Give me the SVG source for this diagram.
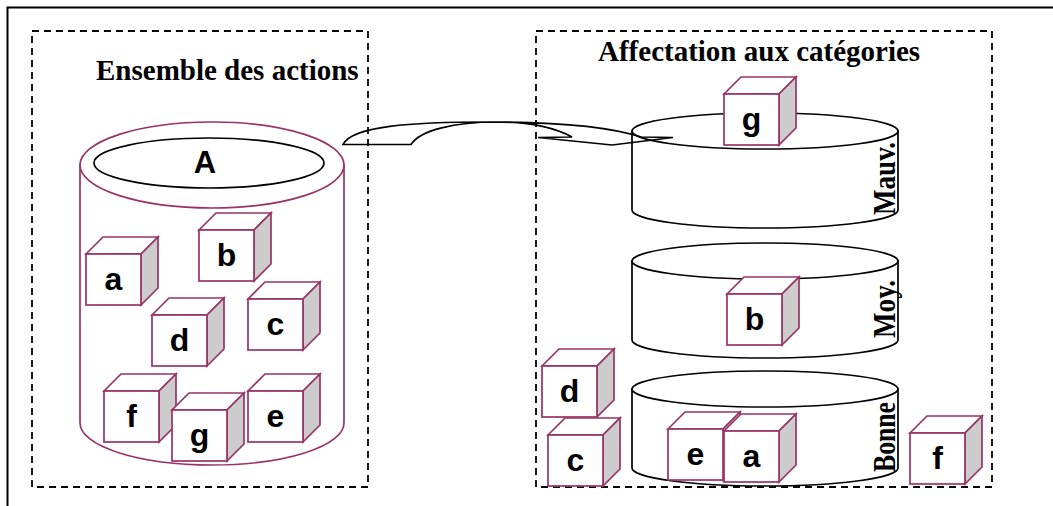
<svg xmlns="http://www.w3.org/2000/svg" xmlns:xlink="http://www.w3.org/1999/xlink" width="1053" height="506" viewBox="0 0 1053 506">
  <style>
    .frame { fill: none; stroke: #000; stroke-width: 2; }
    .zone { fill: none; stroke: #000; stroke-width: 1.8; stroke-dasharray: 7 5; }
    .title { font-family: "Liberation Serif", "Times New Roman", serif; font-weight: bold; font-size: 29px; fill: #000; }
    .cat { font-family: "Liberation Serif", "Times New Roman", serif; font-weight: bold; font-size: 32px; fill: #000; }
    .lbl { font-family: "Liberation Sans", Arial, sans-serif; font-weight: bold; font-size: 32px; fill: #000; text-anchor: middle; }
    .cf { fill: #fff; stroke: #993366; stroke-width: 1.7; stroke-linejoin: miter; }
    .cs { fill: #cccccc; stroke: #993366; stroke-width: 1.7; stroke-linejoin: miter; }
    .pcyl { fill: #fff; stroke: #993366; stroke-width: 1.7; }
    .bcyl { fill: #fff; stroke: #000; stroke-width: 1.7; }
    .ring { fill: none; stroke: #000; stroke-width: 1.7; }
    .arrow { fill: none; stroke: #000; stroke-width: 1.7; stroke-linejoin: miter; }
  </style>
  <defs>
    <!-- a small box: top face, shaded side face, front face -->
    <g id="cube">
      <polygon class="cf" points="0,0 17,-17 72,-17 55,0"/>
      <polygon class="cs" points="55,0 72,-17 72,34 55,51"/>
      <rect class="cf" x="0" y="0" width="55" height="51"/>
    </g>
    <!-- a flat drum: side wall with bottom rim, then the top ellipse -->
    <g id="drum">
      <path class="bcyl" d="M-133,0 V79 A133,18 0 0 0 133,79 V0 Z"/>
      <ellipse class="bcyl" cx="0" cy="0" rx="133" ry="18"/>
    </g>
  </defs>

  <rect width="1053" height="506" fill="#fff"/>

  <!-- outer frame (top and left edges) -->
  <path class="frame" d="M7.5,506 V7.5 H1053"/>

  <!-- left zone: the whole set of actions -->
  <g id="zone-actions">
    <rect class="zone" x="32" y="31" width="336" height="456"/>
    <text class="title" x="96" y="80">Ensemble des actions</text>
  </g>

  <!-- right zone: assignment to categories -->
  <g id="zone-categories">
    <rect class="zone" x="536" y="31" width="456" height="456"/>
    <text class="title" x="598" y="61">Affectation aux catégories</text>
  </g>

  <!-- set A drawn as a tall container -->
  <g id="set-A">
    <path class="pcyl" d="M80,165 V423 A132,42 0 0 0 344,423 V165 Z"/>
    <ellipse class="pcyl" cx="212" cy="165" rx="132" ry="43"/>
    <ellipse class="ring" cx="209" cy="163" rx="115" ry="25"/>
    <text class="lbl" x="205" y="173" style="font-size:31px">A</text>
  </g>

  <!-- actions inside A -->
  <g id="A-a"><use xlink:href="#cube" x="86" y="254"/><text class="lbl" x="113.5" y="290">a</text></g>
  <g id="A-b"><use xlink:href="#cube" x="199" y="230"/><text class="lbl" x="226.5" y="266">b</text></g>
  <g id="A-d"><use xlink:href="#cube" x="152" y="315"/><text class="lbl" x="179.5" y="351">d</text></g>
  <g id="A-c"><use xlink:href="#cube" x="248" y="299"/><text class="lbl" x="275.5" y="335">c</text></g>
  <g id="A-f"><use xlink:href="#cube" x="104" y="391"/><text class="lbl" x="131.5" y="427">f</text></g>
  <g id="A-e"><use xlink:href="#cube" x="248" y="391"/><text class="lbl" x="275.5" y="427">e</text></g>
  <g id="A-g"><use xlink:href="#cube" x="172" y="410"/><text class="lbl" x="199.5" y="446">g</text></g>

  <!-- category drums -->
  <g id="cat-mauv">
    <use xlink:href="#drum" x="765" y="131"/>
    <text class="cat" transform="translate(895,215) rotate(-90)" textLength="73" lengthAdjust="spacingAndGlyphs">Mauv.</text>
  </g>
  <g id="cat-moy">
    <use xlink:href="#drum" x="765" y="261"/>
    <text class="cat" transform="translate(895,338) rotate(-90)" textLength="58" lengthAdjust="spacingAndGlyphs">Moy.</text>
  </g>
  <g id="cat-bonne">
    <use xlink:href="#drum" x="765" y="389"/>
    <text class="cat" transform="translate(895,472) rotate(-90)" textLength="70" lengthAdjust="spacingAndGlyphs">Bonne</text>
  </g>

  <!-- connector: flat curved block arrow from A to the categories -->
  <g id="connectors">
    <path class="arrow" d="M343,144.5 C352,126 410,122 490,122 C560,122 610,127 641,137 L673,137.5 L612,145 L538,137.5 L572,137 C555,128 530,122 497,122 C455,122 420,130 411,144.5 Z"/>
  </g>

  <!-- actions after assignment -->
  <g id="C-g"><use xlink:href="#cube" x="724" y="94"/><text class="lbl" x="751.5" y="130">g</text></g>
  <g id="C-b"><use xlink:href="#cube" x="727" y="294"/><text class="lbl" x="754.5" y="330">b</text></g>
  <g id="C-d"><use xlink:href="#cube" x="542" y="366"/><text class="lbl" x="569.5" y="402">d</text></g>
  <g id="C-c"><use xlink:href="#cube" x="548" y="435"/><text class="lbl" x="575.5" y="471">c</text></g>
  <g id="C-e"><use xlink:href="#cube" x="668" y="429"/><text class="lbl" x="695.5" y="465">e</text></g>
  <g id="C-a"><use xlink:href="#cube" x="724" y="431"/><text class="lbl" x="751.5" y="467">a</text></g>
  <g id="C-f"><use xlink:href="#cube" x="910" y="433"/><text class="lbl" x="937.5" y="469">f</text></g>
</svg>
